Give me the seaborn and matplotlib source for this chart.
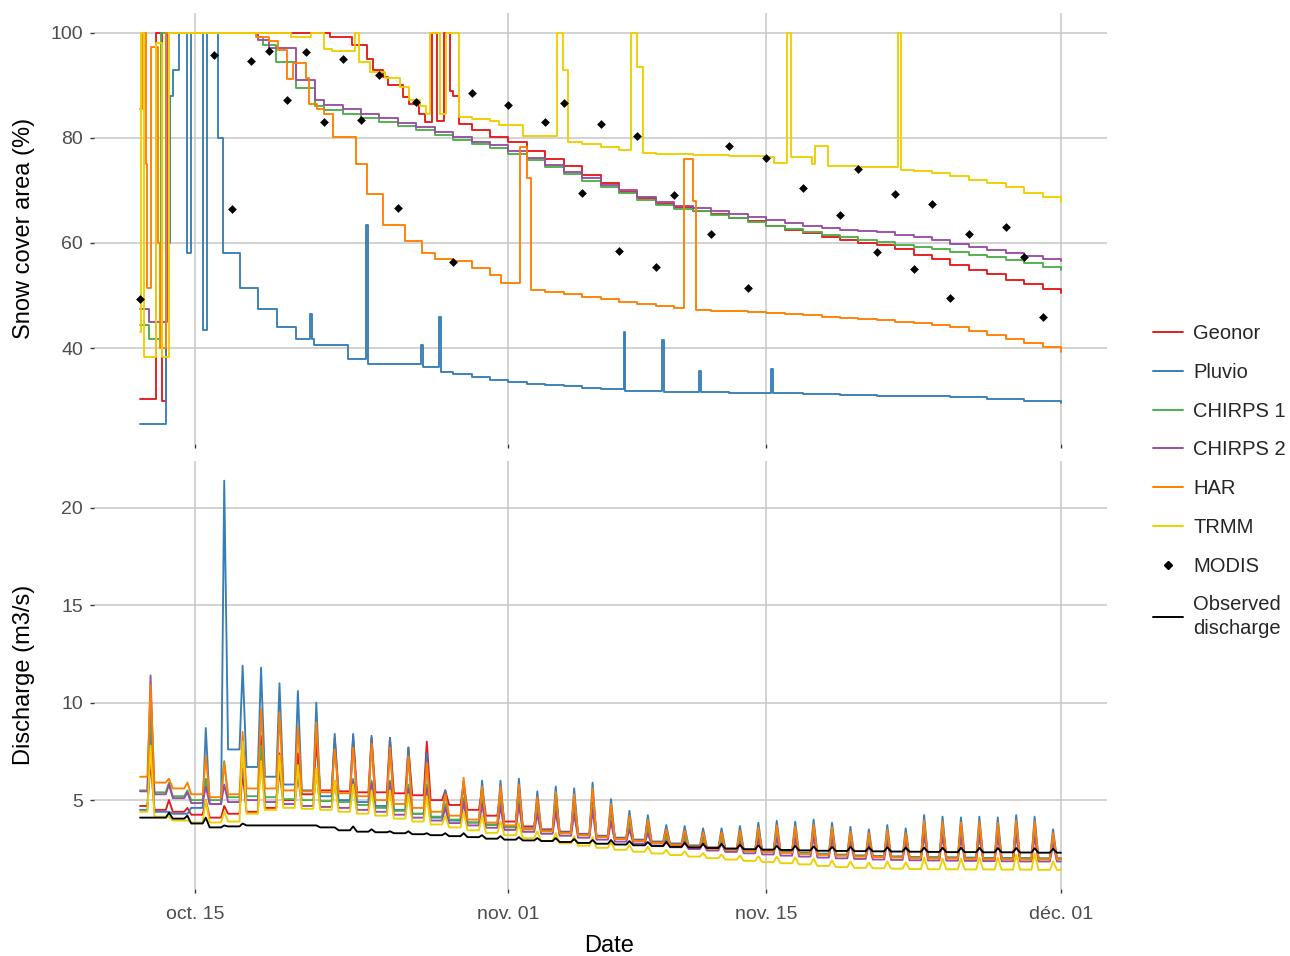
import numpy as np
import pandas as pd
import matplotlib
matplotlib.use("Agg")
import matplotlib.pyplot as plt
from matplotlib.lines import Line2D
import seaborn as sns

START = pd.Timestamp("2014-10-12")

sources = ["Geonor", "Pluvio", "CHIRPS 1", "CHIRPS 2", "HAR", "TRMM"]
palette = ["#E41A1C", "#377EB8", "#4DAF4A", "#984EA3", "#FF7F00", "#F0CF00"]

tick_dates = ["2014-10-15", "2014-11-01", "2014-11-15", "2014-12-01"]
tick_labels = ["oct. 15", "nov. 01", "nov. 15", "déc. 01"]

# ---- snow cover area (%), step breakpoints in days since Oct 12 ----
geonor_sca_t = [0, 0.87, 1.2, 1.42, 10.3, 11.5, 12.3, 12.65, 13.2, 13.45, 14.25, 14.6, 15.15, 15.45,
                15.85, 16.15, 16.5, 16.85, 17.0, 17.3, 18, 19, 20, 21, 22, 23, 24, 25, 26, 27, 28, 29,
                30, 31, 32, 33, 34, 35, 36, 37, 38, 39, 40, 41, 42, 43, 44, 45, 46, 47, 48, 49, 50]
geonor_sca = [30.3, 100, 30, 100, 99.3, 97.7, 95.1, 92.9, 91.6, 90.0, 87.8, 86.5, 84.6, 83.0,
              100, 83.3, 100, 89, 88, 82.7, 81.5, 80.2, 79.2, 77.5, 76.0, 74.7, 73.0, 71.5, 69.8, 68.5,
              67.5, 66.8, 66.1, 65.5, 64.8, 64.1, 63.3, 62.5, 61.9, 61.2, 60.5, 60.0, 59.7, 58.8, 57.8,
              56.9, 55.8, 54.9, 54.0, 53.0, 52.1, 51.2, 50.4]

pluvio_sca_t = [0, 1.42, 1.6, 1.78, 2.1, 2.55, 2.75, 3.4, 3.65, 4.25, 4.5, 5.4, 6.4, 7.45, 8.45, 9.25,
                9.35, 9.45, 11.3, 12.25, 12.35, 15.25, 15.35, 16.25, 16.35, 17, 18, 19, 20, 21, 22, 23,
                24, 25, 26.25, 26.35, 28.35, 28.45, 30.35, 30.45, 32, 34.25, 34.35, 36, 38, 40, 42, 44,
                46, 48, 50]
pluvio_sca = [25.5, 60, 88, 93, 100, 58, 100, 43.4, 100, 80, 58.1, 51.5, 47.5, 44.0, 41.8, 46.5,
              41.8, 40.5, 37.9, 63.5, 37.0, 40.5, 36.3, 45.9, 35.5, 35.0, 34.5, 34.0, 33.5, 33.2, 33.0,
              32.7, 32.4, 32.2, 43.0, 31.9, 41.5, 31.7, 35.7, 31.6, 31.5, 36.0, 31.4, 31.3, 31.1, 30.9,
              30.8, 30.6, 30.3, 29.9, 29.5]

chirps1_sca_t = [0, 0.5, 1.15, 6.35, 6.65, 7.4, 8.45, 9.5] + list(range(10, 51))
chirps1_sca = [44.3, 41.8, 100, 99.3, 97.7, 94.5, 89.5, 86.0,
               85.3, 84.5, 83.8, 83.0, 82.2, 81.5, 80.6, 79.7, 78.8, 78.0, 77.0, 75.8, 74.5, 73.2,
               71.9, 70.7, 69.5, 68.2, 67.2, 66.5, 66.0, 65.3, 64.7, 64.0, 63.3, 62.6, 62.1, 61.6,
               61.1, 60.6, 60.2, 59.7, 59.2, 58.8, 58.3, 57.8, 57.3, 56.7, 56.1, 55.4, 54.9]

chirps2_sca_t = [0, 0.5, 1.45, 6.4, 7.0, 8.45, 9.5] + list(range(10, 51))
chirps2_sca = [47.5, 45.0, 100, 98.7, 97.1, 91.0, 87.2,
               86.2, 85.5, 84.6, 83.8, 82.9, 82.0, 81.2, 80.2, 79.3, 78.6, 77.5, 76.2, 74.9, 73.6,
               72.3, 71.1, 70.0, 68.8, 67.8, 67.1, 66.6, 66.1, 65.6, 65.0, 64.4, 63.8, 63.3, 62.8,
               62.5, 62.2, 62.0, 61.6, 61.1, 60.5, 59.9, 59.3, 58.7, 58.1, 57.5, 57.0, 56.5]

har_sca_t = [0, 0.1, 0.3, 0.4, 0.62, 0.95, 1.1, 1.4, 6.3, 7.0, 7.5, 8.0, 8.3, 9.0, 9.2, 9.6, 10.0,
             10.5, 11.7, 12.3, 13.2, 14.4, 15.3, 16.0, 17.0, 18.0, 19.0, 19.6, 20.65, 21.0, 21.25,
             22, 23, 24, 25, 26, 27, 28, 29, 29.55, 30.0, 30.2, 31, 32, 33, 34, 35, 36, 37, 38, 39,
             40, 41, 42, 43, 44, 45, 46, 47, 48, 49, 50]
har_sca = [85.5, 100, 75, 51.5, 97.4, 60, 40, 100, 99.3, 98.5, 96.7, 91.3, 94.2, 91.5, 86.5, 85.5,
           84.5, 80.1, 75.0, 69.3, 63.5, 60.3, 58.1, 57.0, 56.5, 55.2, 53.9, 52.4, 78.2, 72.4, 51.1,
           50.6, 50.2, 49.8, 49.3, 48.8, 48.3, 48.0, 47.6, 76.0, 68.0, 47.2, 47.1, 47.0, 46.9, 46.7,
           46.5, 46.3, 46.0, 45.8, 45.5, 45.3, 45.0, 44.7, 44.3, 44.0, 43.3, 42.5, 41.8, 41.0, 40.2,
           39.2]

trmm_sca_t = [0, 0.07, 0.22, 0.85, 1.18, 1.58, 8.2, 9.3, 10.0, 10.4, 11.65, 11.9, 12.5, 13.3, 14.1,
              14.6, 15.2, 15.5, 15.75, 16.3, 16.6, 17.3, 18, 19, 19.5, 20.8, 22.65, 22.95, 23.25, 24,
              25, 26, 26.65, 27.0, 27.3, 28, 29, 30, 31, 32, 33, 34, 34.4, 35.1, 35.35, 36.5, 36.65,
              37.35, 38, 39, 40, 41.15, 41.3, 42, 43, 44, 45, 46, 47, 48, 49, 50]
trmm_sca = [43, 100, 38.2, 98, 38.2, 100, 99.3, 100, 97, 96.5, 100, 94.5, 92.6, 91.5, 89.7, 87.2,
            86.0, 84.6, 100, 84.6, 100, 84.0, 83.6, 83.3, 82.4, 80.4, 100, 92.9, 79.2, 78.8, 78.3,
            77.8, 100, 93.5, 77.2, 77.0, 76.9, 76.8, 76.7, 76.6, 76.5, 76.3, 75.3, 100, 76.3, 75.0,
            78.5, 74.7, 74.6, 74.5, 74.4, 100, 73.9, 73.7, 73.3, 72.8, 72.0, 71.4, 70.6, 69.6, 68.8,
            67.8]

modis_day = [0, 4, 5, 6, 7, 8, 9, 10, 11, 12, 13, 14, 15, 17, 18, 20, 22, 23, 24, 25, 26, 27, 28,
             29, 31, 32, 33, 34, 36, 38, 39, 40, 41, 42, 43, 44, 45, 47, 48, 49]
modis_sca = [49.3, 95.8, 66.5, 94.6, 96.6, 87.2, 96.4, 83.0, 95.0, 83.4, 91.9, 66.6, 86.8, 56.3,
             88.6, 86.3, 83.0, 86.7, 69.6, 82.7, 58.5, 80.3, 55.5, 69.1, 61.8, 78.5, 51.5, 76.2,
             70.5, 65.4, 74.0, 58.3, 69.3, 55.1, 67.4, 49.5, 61.7, 63.1, 57.3, 45.9]

# ---- discharge (m3/s): daily baseline (Oct 12 .. Dec 1) and daily melt peak (Oct 12 .. Nov 30) ----
geonor_q_base = [4.7, 4.5, 4.4, 4.25, 4.1, 4.3, 4.4, 4.6, 5.0, 5.3, 5.5, 5.45, 5.4, 5.4, 5.35, 5.25,
                 5.0, 4.75, 4.5, 4.2, 3.9, 3.65, 3.5, 3.38, 3.27, 3.17, 3.07, 2.97, 2.87, 2.77, 2.67,
                 2.57, 2.5, 2.44, 2.38, 2.33, 2.28, 2.23, 2.19, 2.15, 2.12, 2.1, 2.08, 2.06, 2.05,
                 2.04, 2.03, 2.02, 2.01, 2.0, 2.0]
geonor_q_peak = [7.0, 5.0, 4.6, 5.0, 4.7, 6.5, 8.3, 7.4, 7.4, 8.0, 8.2, 8.3, 8.2, 8.2, 7.7, 8.0, 5.5,
                 5.9, 5.6, 5.5, 5.7, 5.0, 5.2, 5.1, 5.3, 4.5, 4.0, 3.8, 3.3, 3.25, 3.15, 3.15, 3.25,
                 3.4, 3.5, 3.45, 3.55, 3.4, 3.2, 3.1, 3.3, 3.15, 3.7, 3.65, 3.6, 3.65, 3.6, 3.7, 3.65,
                 3.1]

pluvio_q_base = [4.5, 4.4, 4.3, 4.6, 4.8, 7.6, 6.7, 6.2, 5.8, 5.5, 5.2, 5.0, 4.9, 4.7, 4.5, 4.3, 4.1,
                 3.95, 3.85, 3.75, 3.65, 3.55, 3.45, 3.35, 3.25, 3.15, 3.05, 2.95, 2.85, 2.75, 2.65,
                 2.55, 2.5, 2.45, 2.4, 2.35, 2.3, 2.25, 2.2, 2.15, 2.12, 2.1, 2.08, 2.06, 2.05, 2.04,
                 2.03, 2.02, 2.01, 2.0, 2.0]
pluvio_q_peak = [8.5, 4.4, 4.3, 8.7, 21.4, 11.9, 11.8, 11.0, 10.6, 10.0, 8.4, 8.4, 8.3, 8.2, 7.7, 7.4,
                 5.5, 5.95, 6.0, 6.0, 6.1, 5.45, 5.7, 5.6, 5.9, 5.05, 4.45, 4.23, 3.72, 3.67, 3.55,
                 3.55, 3.67, 3.84, 3.94, 3.89, 4.0, 3.84, 3.63, 3.5, 3.72, 3.55, 4.23, 4.15, 4.11,
                 4.15, 4.11, 4.23, 4.15, 3.5]

chirps1_q_base = [5.5, 5.4, 5.2, 5.0, 5.0, 5.15, 5.2, 5.15, 5.05, 5.0, 4.95, 4.9, 4.75, 4.6, 4.45, 4.3,
                  4.15, 4.0, 3.85, 3.72, 3.6, 3.5, 3.4, 3.3, 3.2, 3.1, 3.0, 2.9, 2.8, 2.7, 2.6, 2.52,
                  2.46, 2.4, 2.35, 2.3, 2.25, 2.2, 2.16, 2.12, 2.1, 2.08, 2.06, 2.04, 2.02, 2.01, 2.0,
                  2.0, 1.99, 1.98, 1.98]
chirps1_q_peak = [9.5, 5.9, 5.5, 6.1, 7.0, 7.4, 7.8, 6.7, 6.5, 6.6, 6.0, 6.1, 6.0, 6.0, 5.8, 5.8, 4.8,
                  5.1, 5.0, 4.9, 5.0, 4.5, 4.6, 4.5, 4.7, 4.1, 3.7, 3.5, 3.15, 3.1, 3.0, 3.0, 3.05,
                  3.2, 3.25, 3.2, 3.3, 3.2, 3.05, 2.95, 3.1, 3.0, 3.4, 3.35, 3.3, 3.35, 3.3, 3.4, 3.35,
                  2.95]

chirps2_q_base = [5.45, 5.3, 5.1, 4.85, 4.8, 4.9, 5.0, 4.9, 4.8, 4.7, 4.65, 4.6, 4.5, 4.4, 4.25, 4.1,
                  3.95, 3.82, 3.7, 3.58, 3.47, 3.37, 3.27, 3.17, 3.07, 2.97, 2.87, 2.77, 2.67, 2.58,
                  2.49, 2.41, 2.34, 2.27, 2.21, 2.15, 2.1, 2.05, 2.01, 1.98, 1.95, 1.93, 1.91, 1.9,
                  1.89, 1.88, 1.87, 1.86, 1.85, 1.85, 1.85]
chirps2_q_peak = [11.4, 5.8, 5.4, 5.7, 5.8, 6.6, 7.0, 6.5, 6.3, 6.5, 5.9, 6.0, 5.9, 5.9, 5.6, 5.6, 4.6,
                  4.9, 4.8, 4.7, 4.8, 4.3, 4.4, 4.3, 4.5, 3.9, 3.5, 3.3, 2.95, 2.9, 2.8, 2.8, 2.85,
                  3.0, 3.05, 3.0, 3.1, 3.0, 2.85, 2.75, 2.9, 2.8, 3.2, 3.15, 3.1, 3.15, 3.1, 3.2, 3.15,
                  2.75]

har_q_base = [6.2, 5.9, 5.6, 5.3, 5.15, 5.3, 5.6, 5.6, 5.5, 5.45, 5.4, 5.35, 5.2, 5.0, 4.8, 4.6, 4.4,
              4.2, 4.0, 3.85, 3.7, 3.5, 3.4, 3.3, 3.2, 3.1, 3.0, 2.9, 2.8, 2.7, 2.6, 2.5, 2.45, 2.4,
              2.35, 2.3, 2.25, 2.2, 2.15, 2.1, 2.08, 2.05, 2.03, 2.0, 2.0, 1.98, 1.97, 1.96, 1.95,
              1.95, 1.95]
har_q_peak = [10.9, 6.1, 5.9, 7.25, 6.9, 8.5, 9.7, 9.5, 8.8, 9.0, 7.6, 7.7, 7.9, 7.7, 7.25, 6.9, 5.3,
              6.15, 5.7, 5.7, 5.8, 5.15, 5.4, 5.3, 5.6, 4.8, 4.2, 4.0, 3.5, 3.45, 3.35, 3.35, 3.45,
              3.6, 3.7, 3.65, 3.75, 3.6, 3.4, 3.3, 3.5, 3.3, 3.95, 3.9, 3.85, 3.9, 3.85, 3.95, 3.9,
              3.3]

trmm_q_base = [4.4, 4.15, 3.95, 3.85, 3.85, 3.9, 4.3, 4.5, 4.6, 4.55, 4.5, 4.4, 4.3, 4.2, 4.05, 3.9,
               3.75, 3.6, 3.45, 3.32, 3.2, 3.05, 2.9, 2.78, 2.66, 2.55, 2.45, 2.35, 2.26, 2.18, 2.1,
               2.02, 1.95, 1.88, 1.82, 1.76, 1.7, 1.62, 1.56, 1.52, 1.5, 1.48, 1.46, 1.45, 1.45,
               1.44, 1.44, 1.43, 1.43, 1.42, 1.42]
trmm_q_peak = [7.8, 4.15, 3.95, 5.0, 4.4, 8.0, 7.0, 7.3, 6.8, 6.6, 6.0, 5.8, 5.5, 5.5, 5.3, 5.2, 4.2,
               4.4, 4.2, 3.9, 3.8, 3.4, 3.3, 3.15, 3.1, 2.85, 2.7, 2.6, 2.45, 2.38, 2.28, 2.2, 2.15,
               2.12, 2.1, 2.05, 2.0, 1.9, 1.85, 1.8, 1.85, 1.8, 2.05, 2.0, 2.0, 2.05, 2.05, 2.2, 2.25,
               1.85]

obs_q_base = [4.1, 4.1, 4.05, 3.8, 3.6, 3.65, 3.7, 3.7, 3.7, 3.7, 3.6, 3.45, 3.38, 3.35, 3.3, 3.25,
              3.2, 3.15, 3.1, 3.02, 2.97, 2.93, 2.9, 2.85, 2.8, 2.76, 2.72, 2.68, 2.64, 2.6, 2.57,
              2.54, 2.51, 2.48, 2.46, 2.44, 2.42, 2.4, 2.39, 2.38, 2.37, 2.36, 2.35, 2.34, 2.33, 2.33,
              2.32, 2.32, 2.31, 2.3, 2.3]
obs_q_peak = [4.1, 4.35, 4.2, 4.1, 3.7, 3.8, 3.7, 3.7, 3.7, 3.7, 3.6, 3.65, 3.5, 3.4, 3.4, 3.3, 3.3,
              3.3, 3.2, 3.15, 3.1, 3.05, 3.05, 3.0, 2.95, 2.95, 2.9, 2.85, 2.85, 2.8, 2.75, 2.75,
              2.7, 2.68, 2.65, 2.65, 2.62, 2.6, 2.6, 2.58, 2.58, 2.56, 2.56, 2.55, 2.55, 2.55, 2.54,
              2.54, 2.53, 2.5]


def to_dates(days):
    return START + pd.to_timedelta(np.asarray(days, dtype=float), unit="D")


def sca_frame(name, t, v):
    return pd.DataFrame({"date": to_dates(t), "value": v, "source": name})


def q_frame(name, base, peak):
    # each day: flat baseline, sharp afternoon melt peak, back to next day's baseline
    t, v = [0.0], [base[0]]
    for k, p in enumerate(peak):
        t += [k + 0.40, k + 0.57, k + 0.78]
        v += [base[k], p, base[k + 1]]
    t.append(float(len(peak)))
    v.append(base[-1])
    return pd.DataFrame({"date": to_dates(t), "value": v, "source": name})


sca = pd.concat([
    sca_frame("Geonor", geonor_sca_t, geonor_sca),
    sca_frame("Pluvio", pluvio_sca_t, pluvio_sca),
    sca_frame("CHIRPS 1", chirps1_sca_t, chirps1_sca),
    sca_frame("CHIRPS 2", chirps2_sca_t, chirps2_sca),
    sca_frame("HAR", har_sca_t, har_sca),
    sca_frame("TRMM", trmm_sca_t, trmm_sca),
], ignore_index=True)

q = pd.concat([
    q_frame("Geonor", geonor_q_base, geonor_q_peak),
    q_frame("Pluvio", pluvio_q_base, pluvio_q_peak),
    q_frame("CHIRPS 1", chirps1_q_base, chirps1_q_peak),
    q_frame("CHIRPS 2", chirps2_q_base, chirps2_q_peak),
    q_frame("HAR", har_q_base, har_q_peak),
    q_frame("TRMM", trmm_q_base, trmm_q_peak),
], ignore_index=True)
obs = q_frame("Observed discharge", obs_q_base, obs_q_peak)

sns.set_theme(style="white")
plt.rcParams["font.family"] = ["Liberation Sans", "DejaVu Sans"]

fig = plt.figure(figsize=(12.9, 9.56), dpi=100)
ax1 = fig.add_axes([94 / 1290, 1 - 443.7 / 956, 1013 / 1290, 430.3 / 956])
ax2 = fig.add_axes([94 / 1290, 1 - 889.3 / 956, 1013 / 1290, 428.1 / 956], sharex=ax1)

sns.lineplot(data=sca, x="date", y="value", hue="source", hue_order=sources, palette=palette,
             estimator=None, drawstyle="steps-post", linewidth=1.35, legend=False, ax=ax1)
sns.scatterplot(x=to_dates(modis_day), y=modis_sca, marker="D", color="black", s=20,
                linewidth=0, legend=False, ax=ax1, zorder=5)

sns.lineplot(data=q, x="date", y="value", hue="source", hue_order=sources, palette=palette,
             estimator=None, linewidth=1.35, legend=False, ax=ax2)
sns.lineplot(data=obs, x="date", y="value", color="black", estimator=None, linewidth=1.35,
             legend=False, ax=ax2)


def expand(lo, hi, frac=0.05):
    pad = (hi - lo) * frac
    return lo - pad, hi + pad


xlo, xhi = expand(0, 50)
ax1.set_xlim(to_dates([xlo])[0], to_dates([xhi])[0])
all_sca = sca["value"].tolist() + modis_sca
ax1.set_ylim(*expand(min(all_sca), max(all_sca)))
all_q = q["value"].tolist() + obs["value"].tolist()
ax2.set_ylim(*expand(min(all_q), max(all_q)))

ax1.set_yticks([40, 60, 80, 100])
ax2.set_yticks([5, 10, 15, 20])
ax2.set_xticks(pd.to_datetime(tick_dates))
ax2.set_xticklabels(tick_labels)
ax1.tick_params(axis="x", labelbottom=False)

for ax in (ax1, ax2):
    ax.set_facecolor("white")
    for sp in ax.spines.values():
        sp.set_visible(False)
    ax.grid(True, color="#c6c6c6", linewidth=1.1)
    ax.set_axisbelow(True)
    ax.tick_params(axis="both", which="major", length=3, width=1.0, color="#333333",
                   labelsize=14, labelcolor="#4d4d4d", pad=5, bottom=True, left=True)
ax2.tick_params(axis="x", pad=9)

ax1.set_xlabel("")
ax1.set_ylabel("Snow cover area (%)", fontsize=17, color="black")
ax2.set_ylabel("Discharge (m3/s)", fontsize=17, color="black")
ax2.set_xlabel("Date", fontsize=17, color="black")
ax1.yaxis.set_label_coords(-0.058, 0.5)
ax2.yaxis.set_label_coords(-0.058, 0.5)
ax2.xaxis.set_label_coords(0.508, -0.106)

handles = [Line2D([], [], color=c, lw=1.4) for c in palette]
handles.append(Line2D([], [], color="black", marker="D", ls="none", markersize=4.5))
handles.append(Line2D([], [], color="black", lw=1.4))
labels = sources + ["MODIS", "Observed\ndischarge"]
leg = fig.legend(handles, labels, loc="center left", bbox_to_anchor=(1153 / 1290, 1 - 481 / 956),
                 frameon=False, fontsize=14.5, handlelength=1.5, handletextpad=0.5,
                 labelspacing=0.98, borderaxespad=0, borderpad=0)
leg.get_texts()[-1].set_linespacing(1.3)

fig.savefig("out.png", dpi=100)
